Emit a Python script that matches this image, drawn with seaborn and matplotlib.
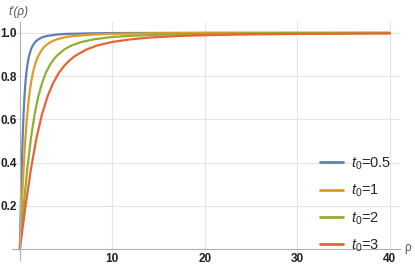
import numpy as np
import pandas as pd
import matplotlib
matplotlib.use('Agg')
import matplotlib.pyplot as plt
import seaborn as sns
from matplotlib.ticker import MultipleLocator

# Values
rho_05 = [0, 0.1, 0.2, 0.3, 0.4, 0.5, 0.6, 0.7, 0.8, 0.9, 1.0, 1.2, 1.4, 1.7, 2, 2.5, 3, 4, 5, 7, 10, 15, 20, 30, 40]
t_05 = [0, 0.196, 0.371, 0.514, 0.625, 0.707, 0.768, 0.814, 0.848, 0.874, 0.894, 0.923, 0.942, 0.959, 0.970, 0.981, 0.986, 0.992, 0.995, 0.997, 0.999, 0.9995, 1.0, 1.0, 1.0]

rho_1 = [0, 0.2, 0.4, 0.6, 0.8, 1.0, 1.2, 1.4, 1.6, 1.8, 2.0, 2.4, 2.8, 3.3, 4, 5, 6, 8, 10, 15, 20, 30, 40]
t_1 = [0, 0.196, 0.371, 0.514, 0.625, 0.707, 0.768, 0.814, 0.848, 0.874, 0.894, 0.923, 0.942, 0.957, 0.970, 0.981, 0.986, 0.992, 0.995, 0.998, 0.999, 0.9995, 1.0]

rho_2 = [0, 0.4, 0.8, 1.2, 1.6, 2.0, 2.4, 2.8, 3.2, 3.6, 4.0, 4.8, 5.6, 6.6, 8, 10, 12, 15, 20, 25, 30, 40]
t_2 = [0, 0.196, 0.371, 0.514, 0.625, 0.707, 0.768, 0.814, 0.848, 0.874, 0.894, 0.923, 0.942, 0.957, 0.970, 0.981, 0.986, 0.991, 0.995, 0.997, 0.998, 0.999]

rho_3 = [0, 0.6, 1.2, 1.8, 2.4, 3.0, 3.6, 4.2, 4.8, 5.4, 6.0, 7.2, 8.4, 10, 12, 14, 17, 20, 25, 30, 35, 40]
t_3 = [0, 0.196, 0.371, 0.514, 0.625, 0.707, 0.768, 0.814, 0.848, 0.874, 0.894, 0.923, 0.942, 0.958, 0.970, 0.978, 0.985, 0.989, 0.993, 0.995, 0.996, 0.997]

labels = ['$t_0$=0.5', '$t_0$=1', '$t_0$=2', '$t_0$=3']
colors = ['#5E81B5', '#E19C24', '#8FB032', '#EB6235']

df = pd.concat([
    pd.DataFrame({'rho': rho_05, 'tp': t_05, 'series': labels[0]}),
    pd.DataFrame({'rho': rho_1, 'tp': t_1, 'series': labels[1]}),
    pd.DataFrame({'rho': rho_2, 'tp': t_2, 'series': labels[2]}),
    pd.DataFrame({'rho': rho_3, 'tp': t_3, 'series': labels[3]}),
])

sns.set_style('white')
plt.rcParams['font.family'] = ['Liberation Sans', 'DejaVu Sans']
plt.rcParams['mathtext.fontset'] = 'custom'
plt.rcParams['mathtext.it'] = 'Liberation Sans:italic'
plt.rcParams['mathtext.rm'] = 'Liberation Sans'

fig = plt.figure(figsize=(4.15, 2.69), dpi=100)
ax = fig.add_axes([12 / 415, 9 / 269, 388 / 415, 238 / 269])

sns.lineplot(data=df, x='rho', y='tp', hue='series', palette=colors,
             linewidth=1.6, ax=ax, sort=True, estimator=None)

ax.set_xlim(-0.85, 41.1)
ax.set_ylim(-0.05, 1.05)

for s in ['top', 'right']:
    ax.spines[s].set_visible(False)
ax.spines['left'].set_position(('data', 0))
ax.spines['bottom'].set_position(('data', 0))
for s in ['left', 'bottom']:
    ax.spines[s].set_color('#b0b0b0')
    ax.spines[s].set_linewidth(0.8)

ax.set_xticks([10, 20, 30, 40])
ax.set_yticks([0.2, 0.4, 0.6, 0.8, 1.0])
ax.set_yticklabels(['0.2', '0.4', '0.6', '0.8', '1.0'])
ax.xaxis.set_minor_locator(MultipleLocator(2))
ax.yaxis.set_minor_locator(MultipleLocator(0.1))
ax.tick_params(axis='both', which='major', direction='in', length=5, width=0.7,
               color='#b0b0b0', labelsize=8.5, labelcolor='#222222', pad=3)
ax.tick_params(axis='y', which='major', pad=2.5)
ax.tick_params(axis='both', which='minor', direction='in', length=3, width=0.6,
               color='#b0b0b0')
for lab in ax.get_xticklabels() + ax.get_yticklabels():
    lab.set_fontweight('bold')

ax.grid(True, which='major', color='#e6e6e6', linewidth=0.8)
ax.set_axisbelow(True)

ax.set_xlabel('')
ax.set_ylabel('')
fig.text(8 / 415, 1 - 12 / 269, "t\u2032(\u03c1)", fontsize=8.5, style='italic',
         color='#555555', va='center', ha='left')
fig.text(408 / 415, 1 - 248 / 269, '\u03c1', fontsize=8.5, color='#555555',
         va='center', ha='center')

handles, _ = ax.get_legend_handles_labels()
leg = ax.legend(handles, labels, loc='lower left',
                bbox_to_anchor=(320 / 415, 15 / 269), bbox_transform=fig.transFigure,
                frameon=False, fontsize=10.5, handlelength=1.6, handletextpad=0.5,
                labelspacing=0.75, borderpad=0, borderaxespad=0)
for line in leg.get_lines():
    line.set_linewidth(2.0)

fig.savefig('out.png', dpi=100)
